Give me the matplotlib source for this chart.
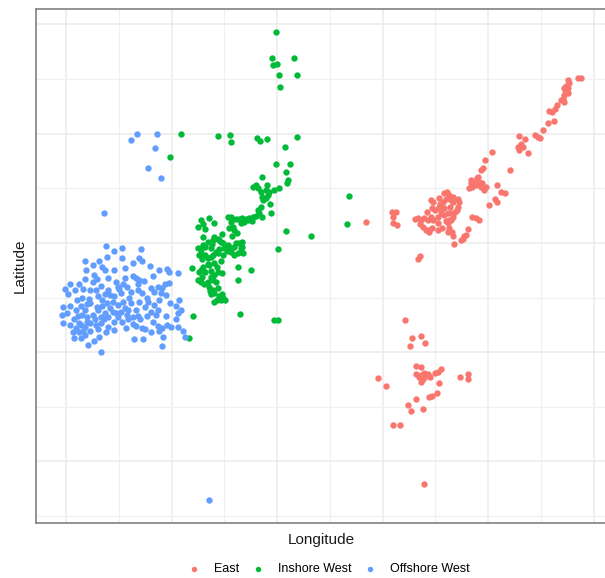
import numpy as np
import matplotlib
matplotlib.use('Agg')
import matplotlib.pyplot as plt

plt.rcParams['font.family'] = ['Liberation Sans', 'DejaVu Sans']

# group colours (ggplot default hue palette)
groups = ['East', 'Inshore West', 'Offshore West']
colors = ['#F8766D', '#00BA38', '#619CFF']

# East
east_lon = [-6.15, -6.12, -6.24, -6.23, -6.26, -6.28, -6.24, -6.26, -6.28, -6.29,
            -6.31, -6.28, -6.24, -6.35, -6.37, -6.40, -6.42, -6.38, -6.43, -6.48,
            -6.56, -6.53, -6.51, -6.71, -6.69, -6.72, -6.67, -6.71, -6.62, -6.79,
            -6.96, -7.03, -7.05, -7.07, -7.10, -7.14, -7.16, -7.12, -7.09, -7.07,
            -7.04, -7.02, -6.92, -6.88, -6.84, -6.94, -6.92, -6.99, -7.18, -7.15,
            -7.39, -7.42, -7.37, -7.33, -7.29, -7.28, -7.29, -7.31, -7.33, -7.35,
            -7.38, -7.37, -7.34, -7.33, -7.54, -7.52, -7.53, -7.50, -7.47, -7.43,
            -7.42, -7.45, -7.42, -7.38, -7.48, -7.52, -7.54, -7.57, -7.61, -7.64,
            -7.67, -7.62, -7.59, -7.56, -7.53, -7.48, -7.91, -7.87, -7.90, -7.90,
            -7.86, -8.16, -7.15, -7.12, -7.09, -7.19, -7.23, -7.24, -7.26, -7.32,
            -7.65, -7.67, -7.47, -7.35, -7.33, -7.35, -7.37, -7.21, -7.16, -7.14,
            -7.69, -7.57, -7.45, -7.46, -7.40, -7.36, -7.30, -7.48, -7.44, -7.40,
            -7.58, -7.65, -7.38, -7.11, -7.06, -6.65, -6.27,
            -7.79, -7.72, -7.64, -7.74, -7.60, -7.68, -7.64, -7.68, -7.66, -7.62,
            -7.59, -7.57, -7.61, -7.64, -7.50, -7.48, -7.45, -7.47, -8.04, -7.97,
            -7.27, -7.19, -7.19, -7.56, -7.53, -7.49, -7.68, -7.76, -7.62, -7.73,
            -7.90, -7.84, -7.61, -7.64, -7.55]
east_lat = [60.51, 60.51, 60.49, 60.46, 60.44, 60.42, 60.42, 60.38, 60.35, 60.32,
            60.31, 60.29, 60.37, 60.26, 60.23, 60.20, 60.21, 60.12, 60.10, 60.03,
            59.99, 59.97, 59.96, 59.98, 59.91, 59.88, 59.88, 59.85, 59.82, 59.67,
            59.83, 59.76, 59.69, 59.67, 59.60, 59.56, 59.55, 59.53, 59.56, 59.51,
            59.48, 59.51, 59.53, 59.47, 59.46, 59.40, 59.37, 59.35, 59.50, 59.51,
            59.47, 59.46, 59.44, 59.42, 59.40, 59.37, 59.33, 59.28, 59.24, 59.21,
            59.18, 59.14, 59.10, 59.06, 59.39, 59.37, 59.32, 59.30, 59.33, 59.37,
            59.32, 59.27, 59.26, 59.27, 59.24, 59.21, 59.24, 59.21, 59.23, 59.21,
            59.23, 59.15, 59.12, 59.10, 59.14, 59.12, 59.28, 59.28, 59.24, 59.18,
            59.16, 59.19, 59.24, 59.23, 59.21, 59.13, 59.06, 59.04, 59.03, 58.99,
            58.88, 58.85, 59.41, 59.39, 59.37, 59.27, 59.21, 59.07, 59.58, 59.53,
            59.22, 59.12, 59.30, 59.36, 59.40, 59.33, 59.30, 59.18, 59.14, 59.20,
            59.28, 59.17, 59.10, 59.59, 59.55, 59.95, 60.40,
            58.29, 58.13, 58.15, 58.06, 58.08, 57.87, 57.86, 57.80, 57.77, 57.75,
            57.78, 57.80, 57.81, 57.73, 57.81, 57.82, 57.85, 57.72, 57.76, 57.69,
            57.77, 57.80, 57.75, 57.59, 57.60, 57.63, 57.57, 57.52, 57.48, 57.46,
            57.33, 57.33, 56.79, 57.79, 57.77]

# Inshore West
inshore_lon = [-9.01, -9.05, -8.84, -9.04, -9.00, -8.98, -8.81, -8.97, -9.91, -9.56,
               -9.45, -9.44, -9.19, -9.16, -9.10, -8.81, -10.02, -8.93, -9.01, -8.88,
               -8.92, -8.90, -8.91, -9.14, -9.23, -9.20, -9.18, -9.15, -9.11, -9.08,
               -9.03, -8.98, -9.14, -9.13, -9.09, -9.07, -9.15, -9.11, -9.06, -8.92,
               -8.99, -8.68, -8.32, -8.34, -9.14, -9.17, -9.20, -9.23, -9.27, -9.30,
               -9.33, -9.36, -9.39, -9.44, -9.47, -9.44, -9.42, -9.34, -9.28, -9.38,
               -9.72, -9.65, -9.75, -9.68, -9.46, -9.41, -9.70, -9.66, -9.61, -9.56,
               -9.53, -9.51, -9.47, -9.41, -9.36, -9.33, -9.34, -9.75, -9.72, -9.68,
               -9.63, -9.56, -9.51, -9.44, -9.37, -9.32, -9.60, -9.55, -9.46, -9.39,
               -9.33, -9.41, -9.55, -9.63, -9.68, -9.72, -9.74, -9.71, -9.66, -9.61,
               -9.53, -9.60, -9.65, -9.70, -9.72, -9.74, -9.71, -9.68, -9.63, -9.60,
               -9.56, -9.52, -9.61, -9.66, -9.72, -9.75, -9.65, -9.61, -9.56, -9.60,
               -9.55, -9.51, -9.52, -9.49, -9.53, -9.60, -9.63, -9.81, -9.37, -9.25,
               -9.37, -9.80, -9.35, -9.03, -8.99, -9.84,
               -9.70, -9.62, -9.58, -9.50, -9.66, -9.57, -9.63, -9.69, -9.58, -9.64,
               -9.57, -9.48, -9.43, -9.52, -9.60, -9.70, -9.31, -9.24, -9.18, -9.10]
inshore_lat = [60.93, 60.69, 60.69, 60.63, 60.64, 60.54, 60.54, 60.43, 60.00, 59.98,
               59.99, 59.92, 59.96, 59.93, 59.95, 59.97, 59.79, 59.88, 59.72, 59.72,
               59.65, 59.58, 59.55, 59.60, 59.51, 59.53, 59.50, 59.47, 59.48, 59.47,
               59.48, 59.50, 59.42, 59.39, 59.44, 59.36, 59.33, 59.41, 59.27, 59.11,
               58.94, 59.06, 59.43, 59.17, 59.24, 59.27, 59.25, 59.24, 59.23, 59.22,
               59.23, 59.22, 59.22, 59.24, 59.24, 59.19, 59.15, 59.18, 59.21, 59.09,
               59.21, 59.23, 59.15, 59.13, 59.14, 59.12, 59.05, 59.01, 59.03, 59.04,
               59.01, 59.00, 58.98, 58.96, 59.00, 59.01, 58.95, 58.95, 58.91, 58.89,
               58.87, 58.91, 58.89, 58.92, 58.91, 58.91, 59.05, 59.03, 58.96, 59.00,
               58.96, 58.89, 58.94, 58.95, 58.96, 58.94, 58.89, 58.85, 58.86, 58.89,
               58.83, 58.82, 58.80, 58.78, 58.75, 58.73, 58.69, 58.73, 58.74, 58.71,
               58.73, 58.72, 58.66, 58.64, 58.64, 58.66, 58.60, 58.57, 58.59, 58.54,
               58.51, 58.50, 58.53, 58.48, 58.48, 58.46, 58.53, 58.77, 58.78, 58.75,
               58.66, 58.33, 58.35, 58.29, 58.29, 58.13,
               58.98, 58.99, 58.92, 58.95, 58.81, 58.78, 58.69, 58.62, 58.64, 58.56,
               58.48, 58.93, 59.06, 59.08, 59.18, 59.17, 59.19, 59.20, 59.30, 59.53]

# Offshore West
offshore_lon = [-10.33, -10.14, -10.39, -10.16, -10.22, -10.10, -10.64, -10.62, -10.55, -10.47,
                -10.29, -10.61, -10.47, -10.82, -10.75, -10.69, -10.63, -10.81, -10.74, -10.66,
                -10.37, -10.31, -10.28, -10.21, -10.04, -9.94, -10.03, -10.82, -10.75, -10.67,
                -10.53, -10.44, -10.37, -10.34, -10.31, -10.32, -10.46, -10.51, -10.60, -10.63,
                -10.77, -10.84, -10.88, -10.96, -11.01, -10.98, -10.85, -10.78, -10.70, -10.66,
                -10.55, -10.48, -10.39, -10.32, -10.28, -10.23, -10.20, -10.17, -10.13, -10.09,
                -10.06, -10.03, -10.10, -11.03, -11.04, -11.03, -10.96, -10.91, -10.86, -10.82,
                -10.77, -10.89, -10.85, -10.80, -10.75, -10.70, -10.66, -10.61, -10.56, -10.51,
                -10.46, -10.39, -10.41, -10.48, -10.56, -10.63, -10.67, -10.60, -10.51, -10.42,
                -10.34, -10.31, -10.25, -10.22, -10.17, -10.13, -10.15, -10.23, -10.32, -10.37,
                -10.96, -10.91, -10.86, -10.82, -10.77, -10.72, -10.67, -10.94, -10.88, -10.84,
                -10.77, -10.70, -10.93, -10.86, -10.79, -10.67, -10.69, -10.60, -10.55, -10.47,
                -10.34, -10.28, -10.25, -10.36, -10.27, -10.13, -10.09, -10.04, -10.01, -10.12,
                -10.08, -10.09, -9.96, -9.94, -9.96, -9.93, -9.91, -9.94, -9.89, -9.87,
                -10.99, -10.93, -10.88, -10.80, -10.73, -10.71, -10.64, -10.58, -10.53, -10.44,
                -10.41, -10.37, -10.30, -10.20, -10.18, -10.05, -10.02, -10.05, -10.12, -10.40,
                -10.58, -10.72, -10.90, -10.92, -10.71, -10.60, -10.55, -10.44, -10.42, -10.26,
                -10.18, -10.12, -10.74, -10.82, -10.62, -10.55, -10.43, -10.20, -10.80, -10.50,
                -9.65]
offshore_lat = [60.00, 60.00, 59.94, 59.87, 59.69, 59.59, 59.27, 58.97, 58.93, 58.95,
                58.94, 58.87, 58.86, 58.83, 58.80, 58.83, 58.75, 58.75, 58.71, 58.78,
                58.82, 58.86, 58.83, 58.79, 58.76, 58.72, 58.73, 58.67, 58.64, 58.61,
                58.64, 58.68, 58.70, 58.68, 58.66, 58.62, 58.62, 58.60, 58.57, 58.53,
                58.57, 58.58, 58.62, 58.62, 58.58, 58.53, 58.50, 58.49, 58.51, 58.48,
                58.51, 58.54, 58.55, 58.57, 58.54, 58.50, 58.59, 58.55, 58.60, 58.59,
                58.62, 58.63, 58.54, 58.41, 58.34, 58.27, 58.42, 58.39, 58.42, 58.39,
                58.45, 58.33, 58.34, 58.32, 58.34, 58.39, 58.42, 58.45, 58.46, 58.43,
                58.46, 58.45, 58.39, 58.37, 58.37, 58.36, 58.32, 58.32, 58.32, 58.34,
                58.39, 58.46, 58.41, 58.46, 58.43, 58.39, 58.34, 58.33, 58.33, 58.32,
                58.25, 58.22, 58.25, 58.23, 58.27, 58.25, 58.27, 58.18, 58.18, 58.19,
                58.19, 58.21, 58.13, 58.13, 58.07, 58.00, 58.14, 58.23, 58.28, 58.28,
                58.24, 58.22, 58.21, 58.12, 58.12, 58.24, 58.22, 58.25, 58.23, 58.19,
                58.14, 58.06, 58.42, 58.36, 58.30, 58.48, 58.39, 58.23, 58.19, 58.14,
                58.36, 58.30, 58.27, 58.28, 58.30, 58.41, 58.30, 58.40, 58.36, 58.40,
                58.30, 58.26, 58.30, 58.37, 58.28, 58.33, 58.45, 58.52, 58.48, 58.50,
                58.52, 58.57, 58.48, 58.57, 58.67, 58.68, 58.75, 58.77, 58.60, 58.65,
                58.70, 58.75, 58.10, 58.16, 58.18, 58.20, 58.22, 58.18, 58.44, 58.58,
                56.65]

lons = [east_lon, inshore_lon, offshore_lon]
lats = [east_lat, inshore_lat, offshore_lat]

fig = plt.figure(figsize=(6.05, 5.78), dpi=100)
# panel runs a little past the right edge of the picture, as in the original
ax = fig.add_axes([36 / 605, 55 / 578, 571 / 605, 514.3 / 578])

for name, c, x, y in zip(groups, colors, lons, lats):
    ax.scatter(x, y, s=21, color=c, linewidths=0, label=name, zorder=3)

ax.set_xticks(np.arange(-11, -5.5, 1.0))
ax.set_xticks(np.arange(-11.0, -5.5, 0.5), minor=True)
ax.set_yticks(np.arange(57, 61.5, 1.0))
ax.set_yticks(np.arange(56.5, 61.5, 0.5), minor=True)

# ggplot style 5% expansion (set after the ticks so they don't widen the view)
all_x = np.concatenate([np.array(v) for v in lons])
all_y = np.concatenate([np.array(v) for v in lats])
dx = (all_x.max() - all_x.min()) * 0.05
dy = (all_y.max() - all_y.min()) * 0.05
ax.set_xlim(all_x.min() - dx, all_x.max() + dx)
ax.set_ylim(all_y.min() - dy, all_y.max() + dy)

ax.grid(which='major', color='#EBEBEB', linewidth=1.1)
ax.grid(which='minor', color='#F0F0F0', linewidth=0.9)
ax.set_axisbelow(True)
ax.tick_params(which='both', length=0, labelbottom=False, labelleft=False)

for sp in ax.spines.values():
    sp.set_color('#808080')
    sp.set_linewidth(1.2)

ax.set_xlabel('Longitude', fontsize=11, labelpad=7, color='#1a1a1a')
ax.set_ylabel('Latitude', fontsize=11, labelpad=7, color='#1a1a1a')

fig.legend(loc='center', bbox_to_anchor=(329 / 605, 1 - 569 / 578), ncol=3,
           frameon=False, fontsize=9, markerscale=0.85, handlelength=1.0,
           handletextpad=1.1, columnspacing=1.0, scatterpoints=1)

fig.savefig('out.png', dpi=100)
